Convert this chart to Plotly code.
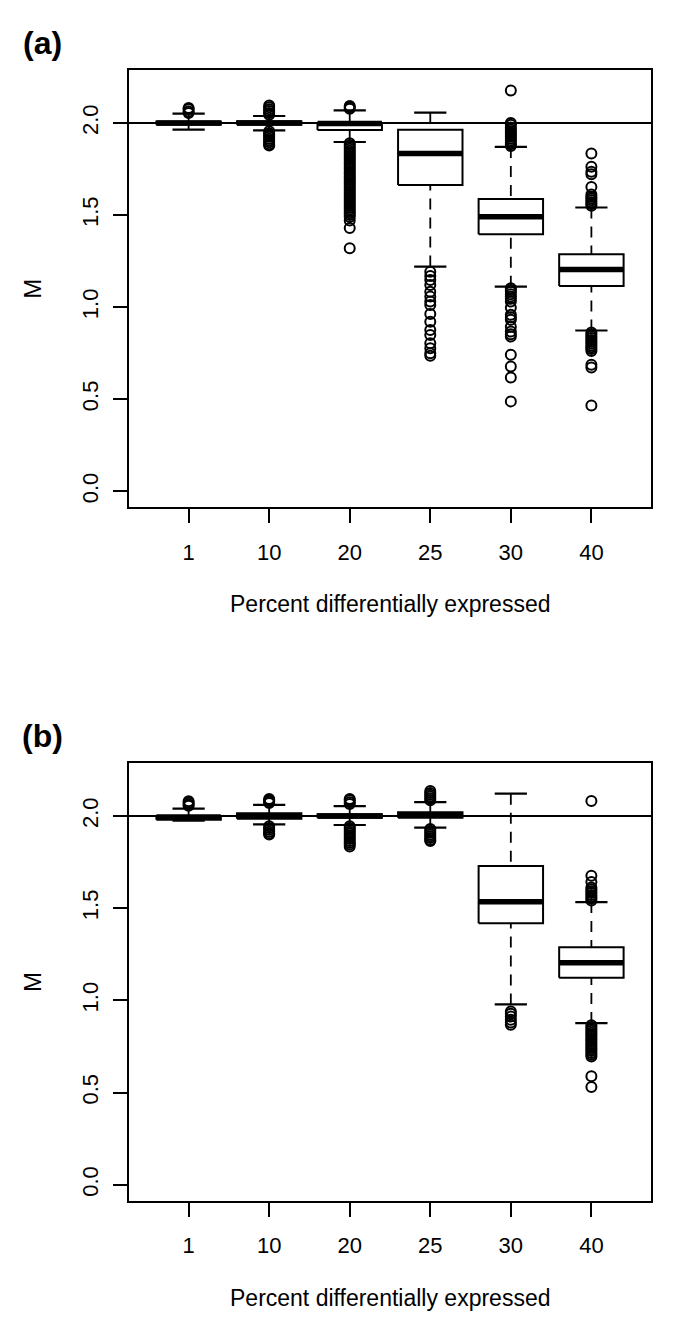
import plotly.graph_objects as go

# ---------------- data ----------------
categories = ["1", "10", "20", "25", "30", "40"]

# panel (a)
a_q1  = [1.990, 1.990, 1.962, 1.663, 1.396, 1.115]
a_med = [2.000, 2.000, 1.997, 1.834, 1.491, 1.205]
a_q3  = [2.008, 2.010, 2.000, 1.964, 1.587, 1.287]
a_lo  = [1.964, 1.960, 1.897, 1.220, 1.111, 0.873]
a_hi  = [2.051, 2.038, 2.069, 2.056, 1.870, 1.541]
a_out = [
    [2.055, 2.062, 2.075, 2.082],
    [2.045, 2.055, 2.065, 2.075, 2.085, 2.095,
     1.955, 1.945, 1.935, 1.925, 1.915, 1.905, 1.895, 1.885, 1.878],
    [2.078, 2.085, 2.092,
     1.89, 1.88, 1.87, 1.86, 1.85, 1.84, 1.83, 1.82, 1.81, 1.80,
     1.79, 1.78, 1.77, 1.76, 1.75, 1.74, 1.73, 1.72, 1.71, 1.70,
     1.69, 1.68, 1.67, 1.66, 1.65, 1.64, 1.63, 1.62, 1.61, 1.60,
     1.59, 1.58, 1.57, 1.56, 1.55, 1.54, 1.53, 1.52, 1.51,
     1.50, 1.49, 1.47, 1.43, 1.32],
    [1.192, 1.169, 1.147, 1.120, 1.084, 1.057, 1.030, 1.012, 0.963,
     0.921, 0.876, 0.849, 0.804, 0.777, 0.750, 0.736],
    [2.177, 2.000, 1.990, 1.975, 1.965, 1.955, 1.945, 1.935, 1.925,
     1.915, 1.905, 1.895, 1.885, 1.875,
     1.102, 1.093, 1.084, 1.070, 1.057, 1.045, 1.030, 0.997, 0.958,
     0.945, 0.931, 0.894, 0.867, 0.852, 0.840, 0.741, 0.678, 0.618, 0.488],
    [1.834, 1.762, 1.735, 1.722, 1.653, 1.612, 1.600, 1.590, 1.580,
     1.570, 1.560, 1.550,
     0.862, 0.852, 0.842, 0.832, 0.822, 0.812, 0.802, 0.792, 0.782,
     0.772, 0.762, 0.687, 0.672, 0.466],
]

# panel (b)
b_q1  = [1.980, 1.985, 1.990, 1.990, 1.418, 1.123]
b_med = [1.995, 2.000, 2.000, 2.005, 1.535, 1.204]
b_q3  = [2.000, 2.015, 2.010, 2.020, 1.729, 1.288]
b_lo  = [1.975, 1.955, 1.951, 1.937, 0.978, 0.877]
b_hi  = [2.040, 2.060, 2.054, 2.075, 2.121, 1.533]
b_out = [
    [2.055, 2.062, 2.072, 2.080],
    [2.070, 2.078, 2.086, 2.092,
     1.945, 1.935, 1.925, 1.915, 1.905, 1.900],
    [2.065, 2.075, 2.085, 2.092,
     1.945, 1.935, 1.925, 1.915, 1.905, 1.895, 1.885, 1.875, 1.865,
     1.855, 1.845, 1.835],
    [2.085, 2.095, 2.105, 2.115, 2.125, 2.135,
     1.930, 1.920, 1.910, 1.900, 1.890, 1.880, 1.870, 1.865],
    [0.940, 0.928, 0.912, 0.895, 0.880, 0.868],
    [2.081, 1.676, 1.642, 1.612, 1.602, 1.592, 1.582, 1.572, 1.562,
     1.552, 1.542,
     0.865, 0.855, 0.845, 0.835, 0.825, 0.815, 0.805, 0.795, 0.785,
     0.775, 0.765, 0.755, 0.745, 0.735, 0.725, 0.715, 0.705, 0.695,
     0.588, 0.530],
]

ref_level = 2.0
y_ticks = [0.0, 0.5, 1.0, 1.5, 2.0]
y_ticklabels = ["0.0", "0.5", "1.0", "1.5", "2.0"]
x_title = "Percent differentially expressed"
y_title = "M"
panel_labels = ["(a)", "(b)"]

# ---------------- styling ----------------
BOX_HALF = 0.4
STAPLE_HALF = 0.2
FONT = "Liberation Sans, Arial, Helvetica, sans-serif"
BLACK = "black"

fig = go.Figure()


def add_panel(xa, ya, q1, med, q3, lo, hi, outs):
    for i in range(len(categories)):
        c = i + 1
        # whiskers (dashed), drawn from whisker end to box edge
        for end, edge in ((hi[i], q3[i]), (lo[i], q1[i])):
            fig.add_trace(go.Scatter(
                x=[c, c], y=[end, edge], mode="lines", xaxis=xa, yaxis=ya,
                line=dict(color=BLACK, width=1.8, dash="11px,8px"),
                hoverinfo="skip", showlegend=False))
            fig.add_trace(go.Scatter(
                x=[c - STAPLE_HALF, c + STAPLE_HALF], y=[end, end],
                mode="lines", xaxis=xa, yaxis=ya,
                line=dict(color=BLACK, width=2.2),
                hoverinfo="skip", showlegend=False))
        # box
        fig.add_trace(go.Scatter(
            x=[c - BOX_HALF, c + BOX_HALF, c + BOX_HALF, c - BOX_HALF, c - BOX_HALF],
            y=[q1[i], q1[i], q3[i], q3[i], q1[i]],
            mode="lines", fill="toself", fillcolor="white",
            xaxis=xa, yaxis=ya, line=dict(color=BLACK, width=2),
            hoverinfo="skip", showlegend=False))
        # median
        fig.add_trace(go.Scatter(
            x=[c - BOX_HALF, c + BOX_HALF], y=[med[i], med[i]],
            mode="lines", xaxis=xa, yaxis=ya,
            line=dict(color=BLACK, width=5.5),
            hoverinfo="skip", showlegend=False))
        # outliers
        fig.add_trace(go.Scatter(
            x=[c] * len(outs[i]), y=outs[i], mode="markers",
            xaxis=xa, yaxis=ya,
            marker=dict(symbol="circle-open", size=10, color=BLACK,
                        line=dict(width=2, color=BLACK)),
            hoverinfo="skip", showlegend=False))


add_panel("x", "y", a_q1, a_med, a_q3, a_lo, a_hi, a_out)
add_panel("x2", "y2", b_q1, b_med, b_q3, b_lo, b_hi, b_out)

for yref, xref in (("y", "x"), ("y2", "x2")):
    fig.add_shape(type="line", xref=f"{xref} domain", yref=yref,
                  x0=0, x1=1, y0=ref_level, y1=ref_level,
                  line=dict(color=BLACK, width=2), layer="above")

xaxis_common = dict(
    range=[0.26, 6.74], tickmode="array",
    tickvals=list(range(1, len(categories) + 1)), ticktext=categories,
    ticks="outside", ticklen=14, tickwidth=2, tickcolor=BLACK,
    showline=True, mirror=True, linecolor=BLACK, linewidth=2,
    showgrid=False, zeroline=False,
    tickfont=dict(family=FONT, size=22, color=BLACK),
    ticklabelstandoff=10,
)
yaxis_common = dict(
    range=[-0.088, 2.288], tickmode="array",
    tickvals=y_ticks, ticktext=y_ticklabels, tickangle=-90,
    ticks="outside", ticklen=14, tickwidth=2, tickcolor=BLACK,
    showline=True, mirror=True, linecolor=BLACK, linewidth=2,
    showgrid=False, zeroline=False,
    tickfont=dict(family=FONT, size=22, color=BLACK),
    ticklabelstandoff=6,
)

# page places the figure 8px in from the top-left corner
OFF = 8
W, H = 685 - OFF, 1339 - OFF
TOP_A, BOT_A, TOP_B, BOT_B = 70.0 - OFF, 507.3 - OFF, 762.7 - OFF, 1200.7 - OFF
LEFT, RIGHT = 129.3 - OFF, 651.0 - OFF
H_PLOT = BOT_B - TOP_A
dom_a = [(BOT_B - BOT_A) / H_PLOT, 1.0]
dom_b = [0.0, (BOT_B - TOP_B) / H_PLOT]

fig.update_layout(
    width=W, height=H,
    margin=dict(l=LEFT, r=W - RIGHT, t=TOP_A, b=H - BOT_B, autoexpand=False),
    paper_bgcolor="white", plot_bgcolor="white",
    xaxis=dict(**xaxis_common, anchor="y", domain=[0, 1]),
    yaxis=dict(**yaxis_common, anchor="x", domain=dom_a),
    xaxis2=dict(**xaxis_common, anchor="y2", domain=[0, 1]),
    yaxis2=dict(**yaxis_common, anchor="x2", domain=dom_b),
    showlegend=False,
)

annotations = []
for yd, lab in (("y domain", panel_labels[0]), ("y2 domain", panel_labels[1])):
    annotations.append(dict(
        text=x_title, xref="paper", yref=yd, x=0.5, y=0,
        xanchor="center", yanchor="middle", yshift=-97, showarrow=False,
        font=dict(family=FONT, size=23, color=BLACK)))
    annotations.append(dict(
        text=y_title, xref="paper", yref=yd, x=0, y=0.5,
        xanchor="center", yanchor="middle", xshift=-96, textangle=-90,
        showarrow=False, font=dict(family=FONT, size=24, color=BLACK)))
    annotations.append(dict(
        text=f"<b>{lab}</b>", xref="paper", yref=yd, x=0, y=1,
        xanchor="center", yanchor="middle", xshift=-87, yshift=27,
        showarrow=False, font=dict(family=FONT, size=32, color=BLACK)))
fig.update_layout(annotations=annotations)

fig.write_html("out.html")
